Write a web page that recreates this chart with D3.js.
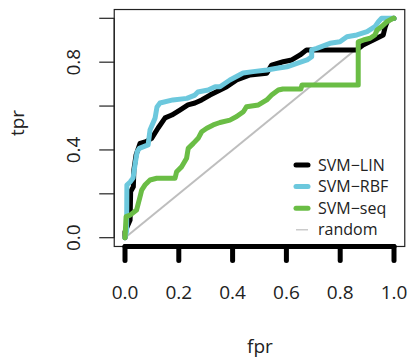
<!DOCTYPE html>
<html>
<head>
<meta charset="utf-8">
<script src="https://cdn.jsdelivr.net/npm/d3@7.9.0/dist/d3.min.js"></script>
<style>
  body { margin: 0; background: #fff; }
  svg text { font-family: "Open Sans", "Noto Sans", sans-serif; fill: #222; }
</style>
</head>
<body>
<svg id="chart" width="410" height="362"></svg>
<script>
// ROC curves
const linFpr = [0, 0, 0.019, 0.021, 0.031, 0.033, 0.041, 0.056, 0.078, 0.099, 0.123, 0.149, 0.174, 0.204, 0.234, 0.260, 0.285, 0.316, 0.378, 0.415, 0.465, 0.527, 0.545, 0.588, 0.620, 0.651, 0.675, 0.861, 0.885, 0.936, 0.960, 0.967, 0.974, 0.985, 1];
const linTpr = [0, 0.027, 0.081, 0.210, 0.232, 0.309, 0.377, 0.430, 0.438, 0.453, 0.500, 0.546, 0.559, 0.582, 0.605, 0.614, 0.628, 0.650, 0.688, 0.719, 0.742, 0.749, 0.787, 0.802, 0.810, 0.833, 0.856, 0.856, 0.878, 0.909, 0.924, 0.960, 0.983, 0.997, 1];

const rbfFpr = [0, 0.006, 0.007, 0.019, 0.030, 0.037, 0.045, 0.053, 0.086, 0.093, 0.112, 0.119, 0.130, 0.178, 0.230, 0.260, 0.271, 0.309, 0.335, 0.353, 0.390, 0.439, 0.476, 0.528, 0.565, 0.602, 0.639, 0.677, 0.694, 0.694, 0.713, 0.762, 0.799, 0.825, 0.862, 0.900, 0.929, 0.942, 0.954, 1];
const rbfTpr = [0, 0.031, 0.240, 0.254, 0.272, 0.331, 0.391, 0.407, 0.423, 0.491, 0.546, 0.596, 0.614, 0.628, 0.635, 0.650, 0.664, 0.673, 0.688, 0.688, 0.719, 0.751, 0.757, 0.764, 0.772, 0.779, 0.795, 0.810, 0.825, 0.856, 0.863, 0.886, 0.893, 0.916, 0.924, 0.939, 0.962, 0.984, 1, 1];

const seqFpr = [0, 0.004, 0.019, 0.043, 0.056, 0.062, 0.074, 0.093, 0.118, 0.186, 0.192, 0.211, 0.229, 0.235, 0.254, 0.272, 0.285, 0.304, 0.328, 0.353, 0.390, 0.415, 0.440, 0.452, 0.496, 0.527, 0.545, 0.570, 0.587, 0.654, 0.658, 0.867, 0.867, 0.886, 0.911, 0.929, 0.937, 0.954, 0.973, 0.997, 1];
const seqTpr = [0, 0.096, 0.103, 0.126, 0.187, 0.217, 0.240, 0.263, 0.271, 0.271, 0.301, 0.324, 0.362, 0.407, 0.430, 0.453, 0.483, 0.499, 0.514, 0.525, 0.536, 0.552, 0.574, 0.597, 0.605, 0.628, 0.650, 0.673, 0.678, 0.678, 0.696, 0.696, 0.893, 0.901, 0.909, 0.924, 0.947, 0.962, 0.984, 1, 1];

const seriesNames = ['SVM\u2212LIN', 'SVM\u2212RBF', 'SVM\u2212seq', 'random'];
const seriesColors = ['#000000', '#6cc8dd', '#6abd45', '#bebebe'];

const xTicks = [0, 0.2, 0.4, 0.6, 0.8, 1.0];
const yTicks = [0, 0.2, 0.4, 0.6, 0.8, 1.0];
const yLabels = [0, 0.4, 0.8];

const svg = d3.select('#chart');

const x = d3.scaleLinear().domain([0, 1]).range([125, 394]);
const y = d3.scaleLinear().domain([0, 1]).range([237.7, 18.3]);

// box around the plot region (R adds 4% on each side)
svg.append('rect')
  .attr('x', x(-0.04)).attr('y', y(1.04))
  .attr('width', x(1.04) - x(-0.04))
  .attr('height', y(-0.04) - y(1.04))
  .attr('fill', 'none')
  .attr('stroke', '#222')
  .attr('stroke-width', 1.2);

// random diagonal
svg.append('line')
  .attr('x1', x(0)).attr('y1', y(0))
  .attr('x2', x(1)).attr('y2', y(1))
  .attr('stroke', seriesColors[3])
  .attr('stroke-width', 2);

const line = d3.line().x(d => x(d[0])).y(d => y(d[1]));

const curves = [
  [d3.zip(seqFpr, seqTpr), seriesColors[2]],
  [d3.zip(linFpr, linTpr), seriesColors[0]],
  [d3.zip(rbfFpr, rbfTpr), seriesColors[1]]
];
// black first, then cyan, green on top
[curves[1], curves[2], curves[0]].forEach(([pts, col]) => {
  svg.append('path')
    .attr('d', line(pts))
    .attr('fill', 'none')
    .attr('stroke', col)
    .attr('stroke-width', 5)
    .attr('stroke-linejoin', 'round')
    .attr('stroke-linecap', 'round');
});

// y axis: thin ticks on the left
const yAxis = svg.append('g');
yAxis.append('line')
  .attr('x1', x(-0.04)).attr('x2', x(-0.04))
  .attr('y1', y(0)).attr('y2', y(1))
  .attr('stroke', '#222').attr('stroke-width', 1.2);
yTicks.forEach(t => {
  yAxis.append('line')
    .attr('x1', x(-0.04) - 15).attr('x2', x(-0.04))
    .attr('y1', y(t)).attr('y2', y(t))
    .attr('stroke', '#222').attr('stroke-width', 1.2);
});
yLabels.forEach(t => {
  yAxis.append('text')
    .attr('transform', `translate(80,${y(t)}) rotate(-90)`)
    .attr('text-anchor', 'middle')
    .attr('font-size', 19)
    .text(t.toFixed(1));
});

// x axis: heavy line and ticks
const xAxis = svg.append('g');
xAxis.append('line')
  .attr('x1', x(0)).attr('x2', x(1))
  .attr('y1', y(-0.04)).attr('y2', y(-0.04))
  .attr('stroke', '#000').attr('stroke-width', 5)
  .attr('stroke-linecap', 'round');
xTicks.forEach(t => {
  xAxis.append('line')
    .attr('x1', x(t)).attr('x2', x(t))
    .attr('y1', y(-0.04)).attr('y2', y(-0.04) + 14)
    .attr('stroke', '#000').attr('stroke-width', 5)
    .attr('stroke-linecap', 'round');
  xAxis.append('text')
    .attr('x', x(t)).attr('y', 298.5)
    .attr('text-anchor', 'middle')
    .attr('font-size', 19)
    .text(t.toFixed(1));
});

svg.append('text')
  .attr('x', 260).attr('y', 353)
  .attr('text-anchor', 'middle')
  .attr('font-size', 19)
  .text('fpr');
svg.append('text')
  .attr('transform', 'translate(24,123) rotate(-90)')
  .attr('text-anchor', 'middle')
  .attr('font-size', 19)
  .text('tpr');

// legend
const legend = svg.append('g');
seriesNames.forEach((name, i) => {
  const ly = 165 + i * 21.6;
  legend.append('line')
    .attr('x1', 296).attr('x2', 308)
    .attr('y1', ly).attr('y2', ly)
    .attr('stroke', seriesColors[i])
    .attr('stroke-width', i < 3 ? 5 : 1.2)
    .attr('stroke-linecap', i < 3 ? 'round' : 'butt');
  legend.append('text')
    .attr('x', 318).attr('y', ly + 5.5)
    .attr('font-size', 16)
    .text(name);
});
</script>
</body>
</html>
